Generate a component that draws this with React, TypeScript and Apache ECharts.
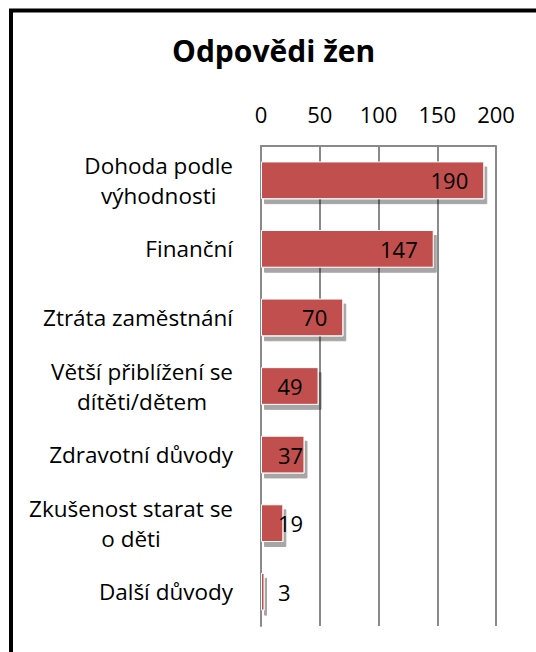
import React, { useEffect, useRef } from "react";
import * as echarts from "echarts";

const titleText = "Odpovědi žen";
const categories = [
  "Dohoda podle\nvýhodnosti",
  "Finanční",
  "Ztráta zaměstnání",
  "Větší přiblížení se\ndítěti/dětem",
  "Zdravotní důvody",
  "Zkušenost starat se\no děti",
  "Další důvody",
];
const values = [190, 147, 70, 49, 37, 19, 3];
const xTicks = { min: 0, max: 200, interval: 50 };

const FONT = "'Open Sans', sans-serif";

export default function App() {
  const ref = useRef<HTMLDivElement>(null);
  useEffect(() => {
    document.body.style.margin = "0";
    if (!ref.current) return;
    const chart = echarts.init(ref.current, undefined, { renderer: "svg" });
    const data = values.map((v) => {
      const inside = v >= 45;
      return {
        value: v,
        label: inside
          ? { position: "insideRight", distance: 16 }
          : { position: [17, "50%"], align: "left", verticalAlign: "middle" },
      };
    });
    chart.setOption({
      animation: false,
      backgroundColor: "#fff",
      title: {
        text: titleText,
        left: 172,
        top: 35,
        padding: 0,
        textStyle: { fontFamily: FONT, fontSize: 30, fontWeight: "bold", color: "#000" },
      },
      graphic: [
        {
          type: "rect",
          shape: { x: 11, y: 10.5, width: 600, height: 700 },
          style: { fill: "none", stroke: "#000", lineWidth: 4 },
          silent: true,
        },
      ],
      grid: { left: 261, right: 40, top: 146, bottom: 26, containLabel: false },
      xAxis: {
        type: "value",
        position: "top",
        min: xTicks.min,
        max: xTicks.max,
        interval: xTicks.interval,
        axisLine: { show: true, lineStyle: { color: "#8a8a8a", width: 2 } },
        axisTick: { show: false },
        splitLine: { show: true, lineStyle: { color: "#8a8a8a", width: 2 } },
        axisLabel: { margin: 21, fontFamily: FONT, fontSize: 22, color: "#000" },
      },
      yAxis: {
        type: "category",
        inverse: true,
        data: categories,
        axisLine: { show: true, lineStyle: { color: "#8a8a8a", width: 2 } },
        axisTick: { show: false },
        axisLabel: {
          margin: 28,
          formatter: (v: string) => v.split("\n").map((l) => `{c|${l}}`).join("\n"),
          rich: {
            c: { align: "center", fontFamily: FONT, fontSize: 22.5, color: "#000", lineHeight: 30 },
          },
        },
      },
      series: [
        {
          type: "bar",
          data,
          barCategoryGap: "45%",
          itemStyle: {
            color: "#C0504D",
            borderColor: "#fff",
            borderWidth: 1,
            shadowColor: "rgba(0,0,0,0.35)",
            shadowBlur: 1,
            shadowOffsetX: 3,
            shadowOffsetY: 5,
          },
          label: {
            show: true,
            fontFamily: FONT,
            fontSize: 22,
            color: "#000",
          },
        },
      ],
    });
    return () => chart.dispose();
  }, []);
  return <div ref={ref} style={{ width: 536, height: 652 }} />;
}
